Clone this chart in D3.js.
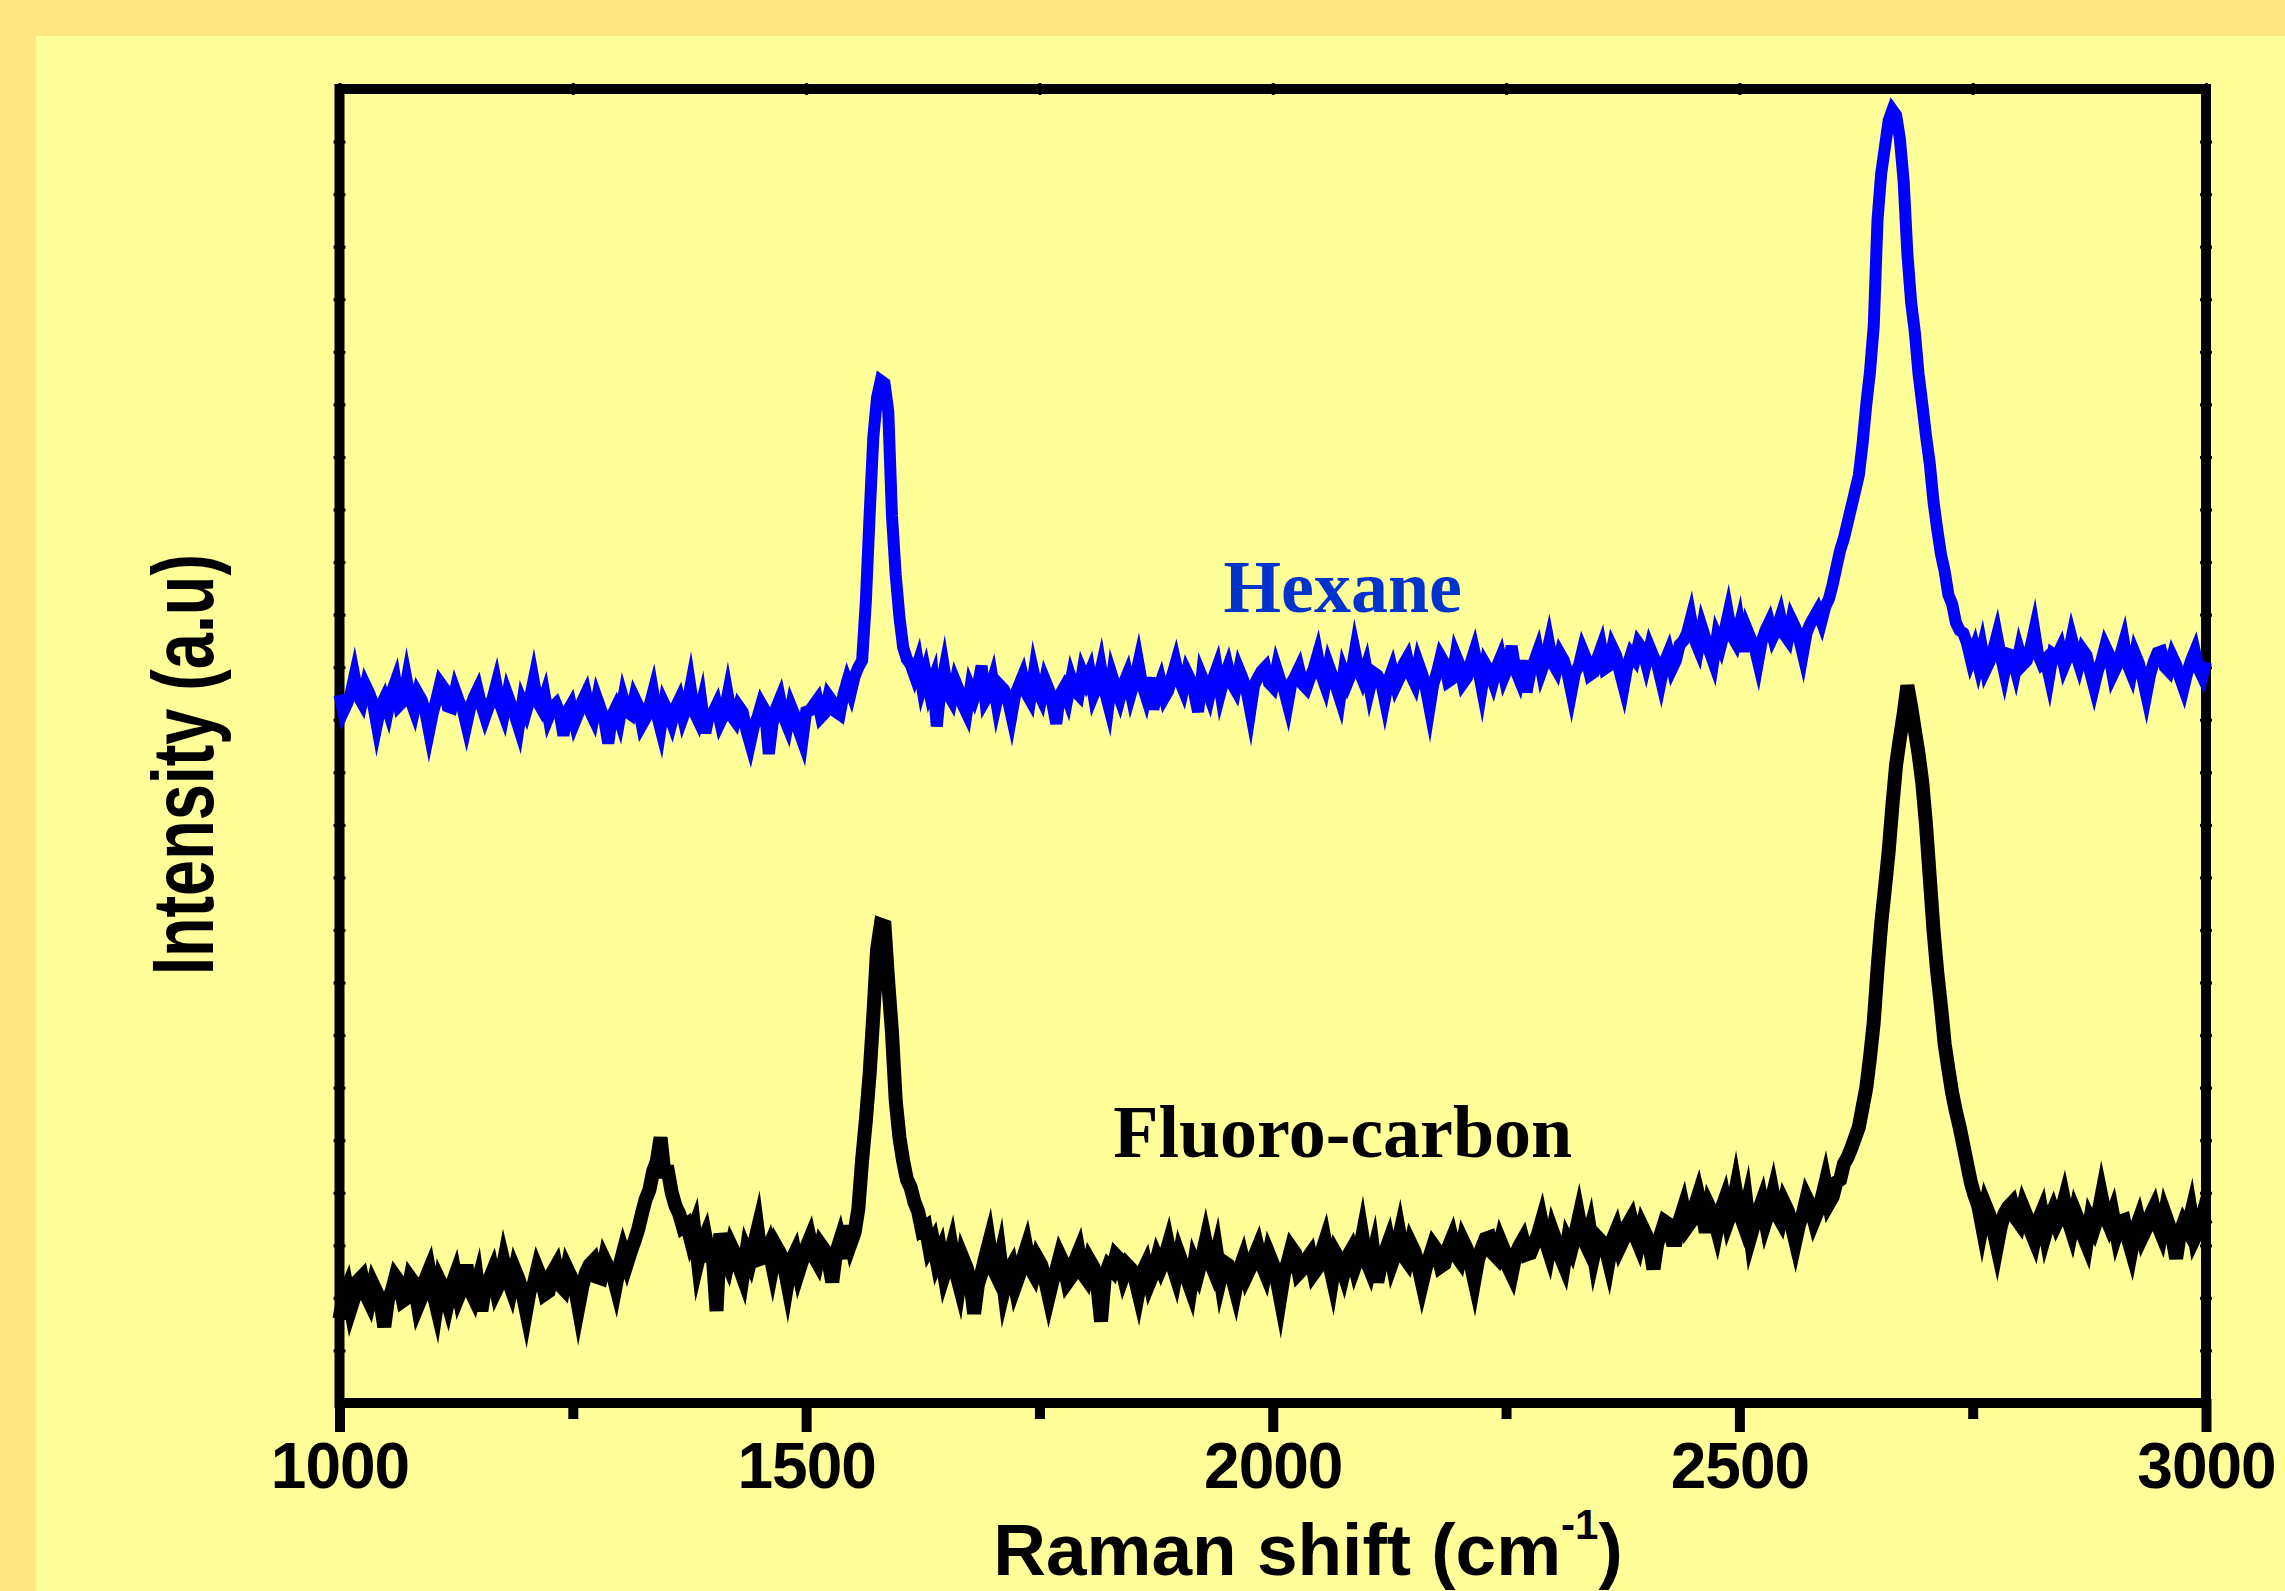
<!DOCTYPE html>
<html>
<head>
<meta charset="utf-8">
<script src="https://cdn.jsdelivr.net/npm/d3@7"></script>
<style>
  html, body { margin: 0; padding: 0; background: #FFFF99; }
  svg { display: block; }
</style>
</head>
<body>
<script>
const shiftStart = 1000;
const shiftStep = 4;

const hexane = [
  53.9, 52.6, 53.2, 54.0, 55.3, 53.8, 53.3, 54.6, 54.0, 53.2, 51.6, 53.0, 53.6, 52.7, 54.1, 54.9, 53.1, 53.4, 55.0, 53.5,
  52.7, 54.0, 53.5, 52.6, 51.1, 52.5, 53.6, 54.8, 54.4, 53.0, 52.9, 54.2, 53.4, 52.8, 51.6, 52.9, 53.7, 54.3, 53.1, 52.2,
  53.0, 53.6, 54.7, 53.2, 52.4, 53.9, 53.1, 52.3, 51.4, 53.3, 52.6, 53.6, 55.0, 53.4, 52.9, 53.8, 52.2, 52.9, 53.2, 52.5,
  50.8, 52.6, 53.1, 51.8, 52.5, 53.4, 54.0, 52.7, 52.1, 53.6, 52.8, 51.9, 50.2, 52.3, 52.9, 52.0, 53.6, 52.6, 52.4, 53.7,
  53.1, 51.6, 52.1, 53.0, 54.1, 52.4, 51.3, 53.2, 52.6, 51.8, 52.9, 53.5, 52.2, 53.0, 54.5, 52.6, 52.0, 53.2, 51.0, 52.4,
  52.5, 53.1, 51.8, 52.4, 53.9, 52.3, 51.9, 53.0, 52.6, 51.2, 50.2, 51.5, 52.2, 53.2, 52.7, 49.4, 51.7, 52.9, 53.6, 52.2,
  51.5, 53.0, 52.3, 51.2, 50.4, 52.6, 52.7, 53.1, 53.5, 52.2, 52.5, 53.8, 53.4, 52.6, 52.4, 53.9, 54.9, 54.1, 55.3, 56.0,
  56.5, 61.0, 67.5, 73.5, 76.5, 77.8, 77.6, 75.5, 67.5, 63.0, 59.8, 57.5, 56.6, 56.2, 55.4, 56.3, 54.6, 55.6, 54.2, 55.0,
  51.5, 54.3, 55.8, 54.0, 53.5, 54.9, 54.2, 53.1, 52.5, 54.4, 53.7, 54.6, 56.1, 53.5, 54.0, 55.0, 53.3, 54.6, 54.3, 53.6,
  52.3, 53.9, 54.6, 55.3, 54.0, 53.5, 55.5, 54.2, 53.6, 55.0, 54.3, 53.2, 51.7, 53.9, 54.4, 53.6, 55.1, 54.2, 53.9, 55.6,
  54.9, 55.6, 53.9, 54.6, 55.9, 54.2, 53.1, 55.3, 54.4, 53.6, 54.7, 55.4, 54.0, 55.0, 56.3, 54.7, 53.8, 55.2, 52.8, 54.1,
  54.9, 53.7, 54.2, 55.3, 56.3, 55.0, 54.3, 55.6, 55.0, 54.0, 52.6, 55.3, 54.6, 53.8, 55.1, 55.9, 54.1, 55.2, 56.0, 54.8,
  54.3, 55.8, 55.1, 54.2, 52.7, 54.6, 55.2, 55.7, 56.0, 54.8, 54.5, 55.9, 55.0, 54.3, 53.2, 54.8, 55.3, 55.9, 54.7, 54.4,
  55.2, 55.9, 56.9, 55.4, 54.6, 56.1, 55.3, 54.5, 53.6, 55.6, 54.8, 55.5, 57.2, 55.8, 55.1, 56.0, 54.4, 55.6, 55.4, 54.9,
  53.5, 55.0, 55.8, 54.6, 55.2, 56.2, 56.7, 55.4, 54.8, 56.3, 55.5, 54.4, 52.9, 54.7, 55.6, 56.8, 56.3, 54.9, 55.1, 56.9,
  56.2, 54.8, 55.2, 56.3, 57.2, 55.9, 54.4, 56.2, 55.7, 54.9, 56.0, 56.7, 55.3, 56.0, 57.6, 55.8, 55.1, 56.5, 54.1, 55.6,
  56.4, 57.2, 55.7, 56.5, 57.8, 56.3, 55.8, 57.0, 56.5, 55.5, 54.1, 55.6, 56.1, 57.3, 56.6, 55.4, 55.6, 56.7, 57.5, 55.9,
  56.1, 57.5, 56.9, 55.6, 54.5, 56.1, 57.0, 56.6, 57.8, 57.4, 56.3, 57.5, 56.8, 56.2, 55.0, 56.4, 57.1, 55.9, 56.5, 57.7,
  58.0, 58.6, 59.7, 58.1, 57.4, 59.0, 58.1, 57.2, 56.4, 58.3, 57.6, 58.7, 60.0, 58.4, 57.9, 59.1, 57.2, 58.9, 58.2, 57.6,
  56.4, 58.0, 58.8, 59.4, 58.3, 58.9, 59.8, 58.5, 58.1, 59.6, 59.0, 58.2, 57.0, 58.6, 59.3, 59.8, 60.3, 59.5, 60.6, 61.2,
  62.3, 63.6, 64.9, 65.8, 67.0, 68.2, 69.4, 70.6, 73.0, 76.0, 78.5, 82.0, 90.0, 93.6, 95.6, 97.6, 98.4, 98.0, 96.2, 93.0,
  87.5, 83.8, 81.5, 78.3, 76.0, 73.6, 71.5, 68.6, 66.5, 64.6, 63.3, 61.5, 60.8, 59.4, 58.8, 58.6, 57.8, 56.6, 57.4, 56.2,
  57.4, 55.8, 56.4, 57.3, 58.4, 56.9, 55.6, 57.0, 56.9, 55.8, 57.2, 56.2, 56.5, 57.5, 58.8, 57.0, 56.3, 56.6, 55.3, 57.0,
  56.8, 57.4, 56.1, 56.8, 58.2, 57.1, 56.2, 57.3, 56.9, 55.6, 54.5, 55.7, 56.5, 57.6, 57.0, 55.4, 56.0, 56.9, 57.9, 56.2,
  55.5, 57.0, 56.3, 55.2, 53.9, 55.4, 56.4, 57.1, 57.2, 56.0, 55.7, 56.8, 56.2, 55.2, 54.4, 55.6, 56.5, 57.2, 55.9, 55.3,
  56.4
];

const fluoroCarbon = [
  6.4, 8.0, 8.7, 7.2, 8.1, 9.3, 9.6, 8.3, 7.7, 9.0, 8.4, 7.6, 5.8, 7.9, 8.5, 9.6, 9.2, 7.8, 8.0, 9.5,
  9.1, 7.4, 8.1, 9.4, 10.1, 8.5, 7.3, 9.2, 8.6, 7.6, 8.9, 9.7, 8.2, 8.9, 10.5, 8.6, 8.0, 9.1, 7.0, 8.8,
  9.3, 10.0, 8.6, 9.2, 10.7, 9.5, 8.7, 10.1, 9.4, 8.4, 7.0, 8.6, 9.0, 10.2, 9.5, 8.3, 8.5, 9.9, 10.4, 9.0,
  8.7, 10.2, 9.6, 8.9, 7.3, 8.8, 9.9, 10.5, 10.8, 9.6, 9.5, 10.9, 10.3, 10.0, 8.9, 10.4, 11.5, 10.6, 11.5, 12.3,
  13.2, 14.4, 15.5, 16.2, 17.6, 18.4, 20.2, 17.6, 17.6, 16.0, 15.0, 14.4, 13.4, 13.6, 12.5, 13.3, 10.8, 12.0, 12.7, 11.2,
  11.2, 7.0, 12.9, 11.3, 10.6, 11.9, 11.3, 10.4, 9.6, 11.5, 10.8, 12.0, 13.2, 11.0, 11.1, 11.8, 10.4, 11.9, 11.4, 10.6,
  9.1, 10.8, 11.4, 10.0, 10.9, 11.8, 12.5, 11.2, 10.7, 12.0, 11.6, 10.8, 9.2, 11.4, 12.3, 11.0, 13.5, 12.2, 13.0, 14.8,
  18.5, 21.5, 25.0, 29.5, 34.5, 36.4, 36.3, 32.0, 28.2, 23.0, 20.2, 18.4, 17.0, 16.4, 15.3, 14.6, 13.2, 13.4, 11.8, 12.3,
  10.8, 11.5, 9.8, 10.7, 11.8, 10.1, 9.0, 11.0, 10.3, 9.2, 6.8, 9.0, 9.9, 11.1, 12.2, 10.3, 9.7, 11.0, 8.7, 9.9,
  10.4, 8.9, 9.7, 10.9, 11.8, 10.3, 9.8, 11.0, 10.5, 9.4, 8.1, 9.3, 10.1, 11.2, 10.6, 9.2, 9.6, 10.8, 11.5, 9.9,
  9.5, 10.8, 10.3, 9.0, 6.2, 9.6, 10.4, 10.1, 11.2, 10.9, 9.7, 10.5, 10.2, 9.6, 8.4, 9.9, 10.5, 9.2, 9.9, 11.0,
  10.3, 11.0, 12.0, 10.6, 9.7, 11.2, 10.4, 9.5, 8.7, 10.6, 9.9, 11.0, 12.3, 10.9, 10.2, 11.4, 9.5, 10.7, 10.5, 9.7,
  8.6, 10.1, 10.9, 9.7, 10.3, 11.1, 11.8, 10.6, 9.9, 11.3, 10.6, 9.5, 8.0, 9.8, 10.7, 11.8, 11.4, 9.9, 10.2, 10.9,
  11.3, 9.9, 10.3, 11.4, 12.3, 10.8, 9.5, 11.3, 10.8, 9.9, 11.1, 11.6, 10.4, 11.2, 12.7, 10.9, 10.2, 11.4, 9.2, 10.6,
  11.4, 12.2, 10.7, 11.5, 12.8, 11.2, 10.8, 12.1, 11.5, 10.4, 9.1, 10.3, 11.1, 12.0, 11.6, 10.4, 10.6, 11.8, 12.5, 11.3,
  10.9, 12.3, 11.7, 10.6, 9.3, 10.9, 11.8, 12.5, 12.6, 11.4, 11.1, 12.3, 11.6, 10.4, 9.8, 11.2, 11.9, 12.4, 11.3, 11.4,
  12.1, 12.8, 13.8, 12.4, 11.5, 13.0, 12.2, 11.2, 10.5, 12.3, 11.7, 12.8, 14.1, 12.6, 12.0, 13.1, 11.3, 12.6, 12.3, 12.0,
  10.8, 12.4, 13.1, 11.9, 12.5, 13.5, 14.0, 12.8, 12.1, 13.4, 12.8, 11.8, 10.2, 12.1, 12.9, 13.8, 13.6, 12.4, 12.4, 13.9,
  14.8, 13.4, 13.8, 14.9, 15.8, 14.6, 13.0, 14.9, 14.3, 13.2, 14.6, 15.4, 13.9, 14.7, 16.2, 14.5, 13.7, 15.0, 12.7, 13.7,
  14.5, 15.3, 13.8, 14.7, 15.9, 14.4, 13.9, 15.2, 14.6, 13.5, 12.3, 13.6, 14.4, 15.6, 15.0, 13.9, 14.6, 15.5, 16.7, 15.2,
  15.7, 16.8, 17.0, 18.2, 18.7, 19.4, 20.2, 21.0, 22.5, 24.0, 26.3, 29.0, 33.0, 36.5, 39.2, 42.0, 45.5, 48.6, 50.6, 52.4,
  54.6, 53.0, 51.2, 49.4, 47.2, 44.0, 40.0, 36.0, 32.8, 30.2, 27.3, 25.4, 23.6, 22.2, 21.0, 19.6, 18.2, 16.8, 15.8, 15.0,
  13.5, 15.0, 14.3, 13.2, 11.9, 13.4, 14.4, 14.9, 15.2, 14.1, 13.7, 14.9, 14.2, 13.1, 12.4, 13.8, 14.5, 12.9, 13.9, 14.6,
  13.7, 14.3, 15.4, 14.0, 13.1, 14.5, 13.8, 12.8, 12.1, 13.9, 13.3, 14.2, 15.7, 14.3, 13.6, 14.4, 12.9, 13.8, 13.9, 12.6,
  11.6, 13.1, 13.9, 12.7, 13.3, 14.2, 14.8, 13.6, 12.9, 14.4, 13.6, 12.6, 11.0, 12.9, 13.7, 13.2, 14.4, 12.6, 13.2, 14.2,
  13.5
];

const xMajorTicks = [1000, 1500, 2000, 2500, 3000];
const xMinorTicks = [1250, 1750, 2250, 2750];
const yTicks = [4, 8, 12, 16, 20, 24, 28, 32, 36, 40, 44, 48, 52, 56, 60, 64, 68, 72, 76, 80, 84, 88, 92, 96];

const seriesLabels = [
  { name: "Hexane", shift: 2075, value: 60.2, color: "#0033CC" },
  { name: "Fluoro-carbon", shift: 2075, value: 18.7, color: "#000000" }
];

const width = 2285;
const height = 1591;
const plot = { left: 339.5, right: 2206, top: 89, bottom: 1403 };
const sans = "'Liberation Sans', Arial, Helvetica, sans-serif";
const serif = "'Liberation Serif', 'Times New Roman', Times, serif";

const svg = d3.select("body")
  .append("svg")
  .attr("width", width)
  .attr("height", height)
  .attr("viewBox", `0 0 ${width} ${height}`);

// slide background
svg.append("rect").attr("width", width).attr("height", height).attr("fill", "#FFE680");
svg.append("rect").attr("x", 36).attr("y", 36)
  .attr("width", width - 36).attr("height", height - 36).attr("fill", "#FFFF99");

const x = d3.scaleLinear().domain([1000, 3000]).range([plot.left, plot.right]);
const y = d3.scaleLinear().domain([0, 100]).range([plot.bottom, plot.top]);

// frame
svg.append("rect")
  .attr("x", plot.left).attr("y", plot.top)
  .attr("width", plot.right - plot.left).attr("height", plot.bottom - plot.top)
  .attr("fill", "none").attr("stroke", "#000").attr("stroke-width", 10);

// bottom axis: major ticks with labels, minor ticks without
const xAxisMajor = svg.append("g")
  .attr("transform", `translate(0,${plot.bottom})`)
  .call(d3.axisBottom(x).tickValues(xMajorTicks).tickSize(29).tickFormat(d3.format("d")));
const xAxisMinor = svg.append("g")
  .attr("transform", `translate(0,${plot.bottom})`)
  .call(d3.axisBottom(x).tickValues(xMinorTicks).tickSize(16).tickFormat(""));

[xAxisMajor, xAxisMinor].forEach((g) => {
  g.select(".domain").remove();
  g.selectAll(".tick line").attr("stroke", "#000").attr("stroke-width", 10).attr("y1", -4);
});
xAxisMajor.selectAll(".tick text")
  .attr("y", 85).attr("dy", 0)
  .attr("fill", "#000")
  .attr("font-family", sans).attr("font-size", 64).attr("font-weight", "bold")
  .attr("letter-spacing", -1);

// small nubs on the other sides of the frame
const nubAxes = [
  svg.append("g").attr("transform", `translate(${plot.left + 6},0)`)
    .call(d3.axisLeft(y).tickValues(yTicks).tickSize(12).tickFormat("")),
  svg.append("g").attr("transform", `translate(${plot.right - 6},0)`)
    .call(d3.axisRight(y).tickValues(yTicks).tickSize(12).tickFormat("")),
  svg.append("g").attr("transform", `translate(0,${plot.top + 6})`)
    .call(d3.axisTop(x).tickValues(xMajorTicks.concat(xMinorTicks)).tickSize(12).tickFormat(""))
];
nubAxes.forEach((g) => {
  g.select(".domain").remove();
  g.selectAll(".tick line").attr("stroke", "#000").attr("stroke-width", 3);
});

// spectra
const line = d3.line()
  .x((d, i) => x(shiftStart + i * shiftStep))
  .y((d) => y(d));

svg.append("path")
  .datum(fluoroCarbon)
  .attr("d", line)
  .attr("fill", "none")
  .attr("stroke", "#000000")
  .attr("stroke-width", 14)
  .attr("stroke-linejoin", "miter")
  .attr("stroke-miterlimit", 6);

svg.append("path")
  .datum(hexane)
  .attr("d", line)
  .attr("fill", "none")
  .attr("stroke", "#0000FF")
  .attr("stroke-width", 12)
  .attr("stroke-linejoin", "miter")
  .attr("stroke-miterlimit", 6);

// series labels
svg.append("g")
  .selectAll("text")
  .data(seriesLabels)
  .join("text")
  .attr("x", (d) => x(d.shift))
  .attr("y", (d) => y(d.value))
  .attr("text-anchor", "middle")
  .attr("fill", (d) => d.color)
  .attr("font-family", serif)
  .attr("font-size", 74)
  .attr("font-weight", "bold")
  .text((d) => d.name);

// axis titles
const xTitle = svg.append("text")
  .attr("x", 1308)
  .attr("y", 1575)
  .attr("text-anchor", "middle")
  .attr("fill", "#000")
  .attr("font-family", sans)
  .attr("font-size", 73)
  .attr("font-weight", "bold");
xTitle.append("tspan").text("Raman shift (cm");
xTitle.append("tspan").attr("font-size", 42).attr("dy", -36).text("-1");
xTitle.append("tspan").attr("dy", 36).text(")");

svg.append("text")
  .attr("transform", "translate(213,764.5) rotate(-90)")
  .attr("text-anchor", "middle")
  .attr("fill", "#000")
  .attr("font-family", sans)
  .attr("font-size", 88)
  .attr("font-weight", "bold")
  .attr("textLength", 421)
  .attr("lengthAdjust", "spacingAndGlyphs")
  .text("Intensity (a.u)");
</script>
</body>
</html>
